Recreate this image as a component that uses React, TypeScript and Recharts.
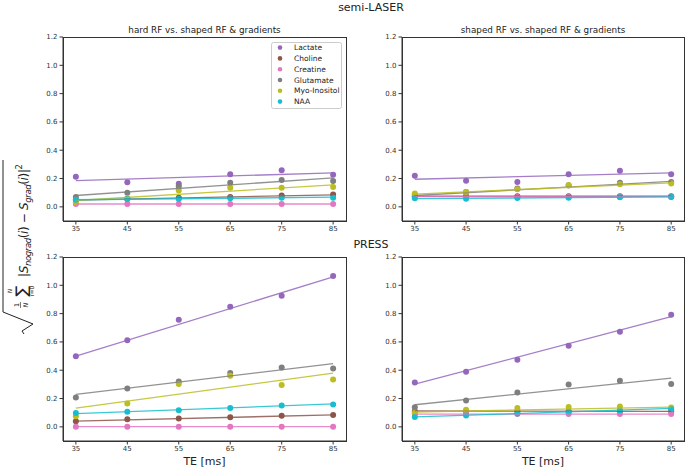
import {
  Scatter,
  ScatterChart,
  XAxis,
  YAxis,
} from "recharts";

const TE = [35, 45, 55, 65, 75, 85];
const FIT_TE = [35, 85];
const Y_TICKS = [0, 0.2, 0.4, 0.6, 0.8, 1.0, 1.2];

const METABOLITES = ["Lactate", "Choline", "Creatine", "Glutamate", "Myo-Inositol", "NAA"];
const COLORS = ["#9467bd", "#8c564b", "#e377c2", "#7f7f7f", "#bcbd22", "#17becf"];

// semi-LASER, hard RF vs. shaped RF & gradients
const slHardPoints = [
  [0.213, 0.173, 0.163, 0.23, 0.258, 0.227],
  [0.05, 0.055, 0.065, 0.07, 0.08, 0.087],
  [0.02, 0.02, 0.02, 0.02, 0.02, 0.02],
  [0.07, 0.1, 0.145, 0.17, 0.19, 0.183],
  [0.03, 0.06, 0.115, 0.135, 0.135, 0.14],
  [0.05, 0.055, 0.055, 0.06, 0.065, 0.065],
];
const slHardFit = [
  [0.185, 0.24],
  [0.048, 0.085],
  [0.02, 0.02],
  [0.08, 0.205],
  [0.045, 0.155],
  [0.05, 0.068],
];

// semi-LASER, shaped RF vs. shaped RF & gradients
const slShapedPoints = [
  [0.22, 0.185, 0.175, 0.23, 0.255, 0.23],
  [0.075, 0.075, 0.075, 0.075, 0.075, 0.075],
  [0.07, 0.07, 0.07, 0.07, 0.07, 0.07],
  [0.085, 0.105, 0.13, 0.15, 0.17, 0.175],
  [0.095, 0.105, 0.125, 0.155, 0.16, 0.165],
  [0.06, 0.058, 0.062, 0.065, 0.068, 0.07],
];
const slShapedFit = [
  [0.195, 0.24],
  [0.075, 0.075],
  [0.072, 0.072],
  [0.08, 0.18],
  [0.09, 0.17],
  [0.058, 0.07],
];

// PRESS, hard RF
const prHardPoints = [
  [0.498, 0.611, 0.757, 0.849, 0.927, 1.066],
  [0.04, 0.054, 0.059, 0.068, 0.078, 0.083],
  [0, 0, 0, 0, 0, 0],
  [0.208, 0.271, 0.321, 0.38, 0.42, 0.413],
  [0.075, 0.165, 0.302, 0.361, 0.295, 0.335],
  [0.097, 0.106, 0.118, 0.134, 0.151, 0.158],
];
const prHardFit = [
  [0.5, 1.06],
  [0.04, 0.085],
  [0.002, 0.002],
  [0.229, 0.446],
  [0.132, 0.38],
  [0.093, 0.162],
];

// PRESS, shaped RF
const prShapedPoints = [
  [0.314, 0.389, 0.474, 0.573, 0.672, 0.792],
  [0.11, 0.11, 0.11, 0.11, 0.11, 0.11],
  [0.09, 0.09, 0.09, 0.09, 0.09, 0.09],
  [0.139, 0.186, 0.243, 0.3, 0.325, 0.302],
  [0.1, 0.12, 0.134, 0.141, 0.144, 0.137],
  [0.07, 0.08, 0.095, 0.105, 0.115, 0.125],
];
const prShapedFit = [
  [0.302, 0.778],
  [0.112, 0.11],
  [0.09, 0.09],
  [0.156, 0.344],
  [0.105, 0.14],
  [0.07, 0.13],
];

const FONT = "DejaVu Sans, sans-serif";
const INK = "#333";
const TXT = "#222";

const Dot = (props: any) => (
  <circle cx={props.cx} cy={props.cy} r={3} fill={props.fill} />
);
const NoDot = () => <g />;

interface PanelProps {
  left: number;
  top: number;
  w: number;
  h: number;
  points: number[][];
  fits: number[][];
}

function Panel({ left, top, w, h, points, fits }: PanelProps) {
  const yw = 40;
  const mt = 5;
  return (
    <>
      <div style={{ position: "absolute", left: left - yw, top: top - mt }}>
        <ScatterChart
          width={w + yw + 1}
          height={h + mt + 22}
          margin={{ top: mt, right: 1, left: 0, bottom: 2 }}
        >
          <XAxis
            type="number"
            dataKey="x"
            domain={[32.5, 87.5]}
            ticks={TE}
            allowDataOverflow
            height={20}
            tickSize={3.5}
            tick={{ fontSize: 7, fill: INK, fontFamily: FONT }}
            stroke={INK}
          />
          <YAxis
            type="number"
            dataKey="y"
            domain={[-0.1, 1.2]}
            ticks={Y_TICKS}
            allowDataOverflow
            width={yw}
            tickSize={3.5}
            tickFormatter={(v: number) => v.toFixed(1)}
            tick={{ fontSize: 7, fill: INK, fontFamily: FONT }}
            stroke={INK}
          />
          {METABOLITES.map((m, i) => (
            <Scatter
              key={"p" + m}
              name={m}
              data={TE.map((x, j) => ({ x, y: points[i][j] }))}
              fill={COLORS[i]}
              shape={Dot}
              isAnimationActive={false}
            />
          ))}
          {METABOLITES.map((m, i) => (
            <Scatter
              key={"f" + m}
              data={FIT_TE.map((x, j) => ({ x, y: fits[i][j] }))}
              fill={COLORS[i]}
              line={{ stroke: COLORS[i], strokeWidth: 1.3, strokeOpacity: 0.85 }}
              shape={NoDot}
              isAnimationActive={false}
            />
          ))}
        </ScatterChart>
      </div>
      <div
        style={{
          position: "absolute",
          left,
          top,
          width: w - 1,
          height: h - 1,
          border: `1px solid ${INK}`,
          pointerEvents: "none",
        }}
      />
    </>
  );
}

function Annotations() {
  return (
    <svg
      width={685}
      height={468}
      style={{ position: "absolute", left: 0, top: 0, pointerEvents: "none" }}
      fontFamily={FONT}
      fill={TXT}
    >
      <text x={371} y={11} fontSize={11} textAnchor="middle">semi-LASER</text>
      <text x={371} y={248} fontSize={11} textAnchor="middle">PRESS</text>
      <text x={204.5} y={33} fontSize={8.8} textAnchor="middle">hard RF vs. shaped RF &amp; gradients</text>
      <text x={543} y={33} fontSize={8.8} textAnchor="middle">shaped RF vs. shaped RF &amp; gradients</text>
      <text x={204.5} y={465} fontSize={11} textAnchor="middle">TE [ms]</text>
      <text x={543} y={465} fontSize={11} textAnchor="middle">TE [ms]</text>

      {/* legend */}
      <rect x={271.5} y={42.5} width={70} height={66} rx={2} fill="#fff" fillOpacity={0.85} stroke="#ccc" />
      {METABOLITES.map((m, i) => (
        <g key={m}>
          <circle cx={280} cy={47.6 + 10.8 * i} r={2.3} fill={COLORS[i]} />
          <text x={294} y={50.2 + 10.8 * i} fontSize={7.5}>{m}</text>
        </g>
      ))}

      {/* y label */}
      <g transform="translate(20,247) rotate(-90)">
        <path d="M -87 4 L -84 2 L -77 13 L -65 -17 L 87 -17" fill="none" stroke={TXT} strokeWidth={1} />
        <text x={-58} y={-1.5} fontSize={6.5} textAnchor="middle">1</text>
        <line x1={-61} y1={0.5} x2={-55} y2={0.5} stroke={TXT} strokeWidth={0.6} />
        <text x={-58} y={7.5} fontSize={6.5} fontStyle="italic" textAnchor="middle">N</text>
        <text x={-44} y={-8} fontSize={6} fontStyle="italic" textAnchor="middle">N</text>
        <text x={-44} y={7} fontSize={16} textAnchor="middle">∑</text>
        <text x={-44} y={13.5} fontSize={6} textAnchor="middle">
          <tspan fontStyle="italic">i</tspan>=0
        </text>
        <text x={-30} y={8} fontSize={12} textLength={113} lengthAdjust="spacing">
          |<tspan fontStyle="italic">S</tspan>
          <tspan fontSize={8.5} dy={2.5} fontStyle="italic">nograd</tspan>
          <tspan dy={-2.5}>(</tspan>
          <tspan fontStyle="italic">i</tspan>
          <tspan>) − </tspan>
          <tspan fontStyle="italic">S</tspan>
          <tspan fontSize={8.5} dy={2.5} fontStyle="italic">grad</tspan>
          <tspan dy={-2.5}>(</tspan>
          <tspan fontStyle="italic">i</tspan>
          <tspan>)|</tspan>
          <tspan fontSize={8.5} dy={-6}>2</tspan>
        </text>
      </g>
    </svg>
  );
}

export default function App() {
  return (
    <div
      style={{
        position: "absolute",
        left: 0,
        top: 0,
        width: 685,
        height: 468,
        background: "#fff",
        overflow: "hidden",
      }}
    >
      <Panel left={63} top={37} w={283} h={184} points={slHardPoints} fits={slHardFit} />
      <Panel left={402} top={37} w={282} h={184} points={slShapedPoints} fits={slShapedFit} />
      <Panel left={63} top={257} w={283} h={184} points={prHardPoints} fits={prHardFit} />
      <Panel left={402} top={257} w={282} h={184} points={prShapedPoints} fits={prShapedFit} />
      <Annotations />
    </div>
  );
}
